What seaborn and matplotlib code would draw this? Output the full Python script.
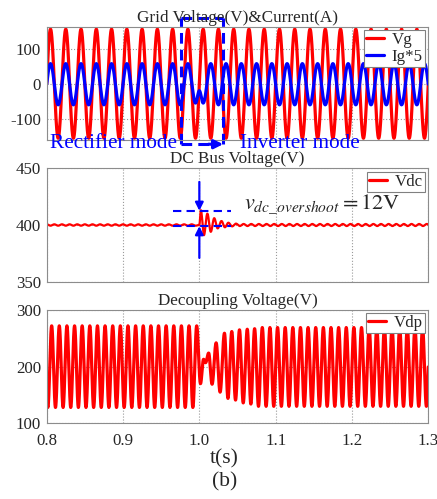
import numpy as np
import pandas as pd
import matplotlib
matplotlib.use("Agg")
import matplotlib.pyplot as plt
import seaborn as sns

# ---------------- data ----------------
t_start, t_end = 0.80, 1.30
x_ticks = [0.8, 0.9, 1.0, 1.1, 1.2, 1.3]
x_tick_labels = ["0.8", "0.9", "1.0", "1.1", "1.2", "1.3"]

# Grid voltage (50 Hz): crest / trough levels and first extremum time
vg_levels = [-155, 155]          # trough, crest
vg_first_ext = 0.795
grid_half_period = 0.010

# Grid current x5: rectifier (in phase) -> inverter (anti-phase)
ig_levels = [-60, 57]            # trough, crest
ig_switch_t = [0.995, 1.000, 1.005]
ig_switch_v = [-55, -20, -55]
ig_inverter_first = 1.015        # first crest in inverter mode

# DC bus voltage: ripple before/after, transient extrema
vdc_pre_levels = [400.6, 399.4]
vdc_trans_t = [1.000, 1.002, 1.006, 1.0105, 1.015, 1.0195, 1.024, 1.029,
               1.0335, 1.038, 1.043, 1.048]
vdc_trans_v = [400.0, 413.0, 391.0, 410.0, 394.0, 406.0, 397.0, 403.5,
               398.0, 402.0, 398.8, 401.2]
vdc_post_levels = [399.1, 400.9]
ripple_half_period = 0.005

# Decoupling voltage (100 Hz)
vdp_pre_levels = [272, 128]      # crest, trough
vdp_pre_first = 0.7965
vdp_trans_t = [1.0015, 1.0055, 1.0082, 1.0122, 1.0167, 1.0220, 1.0272, 1.0329,
               1.0375, 1.0425, 1.0474, 1.0526, 1.0575, 1.0628, 1.0675, 1.0724]
vdp_trans_v = [170, 213, 207, 224, 169, 242, 155, 259,
               144, 262, 141, 265, 136, 266, 134, 267]
vdp_post_levels = [130, 269]     # trough, crest
vdp_post_first = 1.0775

# annotation values
vdc_nominal = 400
vdc_overshoot_peak = 412.5
mode_box_t = [0.9766, 1.0312]


def alternating(first_t, stop_t, step, levels):
    n = int(np.floor((stop_t - first_t) / step + 1e-9)) + 1
    times = first_t + step * np.arange(n)
    vals = np.array([levels[k % 2] for k in range(n)], dtype=float)
    return list(times), list(vals)


def extrema_curve(times, values, t):
    times = np.asarray(times, float)
    values = np.asarray(values, float)
    i = np.clip(np.searchsorted(times, t, side="right") - 1, 0, len(times) - 2)
    s = np.clip((t - times[i]) / (times[i + 1] - times[i]), 0, 1)
    return values[i] + (values[i + 1] - values[i]) * (1 - np.cos(np.pi * s)) / 2


t = np.linspace(t_start, t_end, 10001)

# Vg
vg_t, vg_v = alternating(vg_first_ext, 1.306, grid_half_period, vg_levels)
# Ig*5
a_t, a_v = alternating(vg_first_ext, 0.9851, grid_half_period, ig_levels)
b_t, b_v = alternating(ig_inverter_first, 1.306, grid_half_period, ig_levels[::-1])
ig_t = a_t + ig_switch_t + b_t
ig_v = a_v + ig_switch_v + b_v
# Vdc
a_t, a_v = alternating(0.800, 0.9951, ripple_half_period, vdc_pre_levels)
b_t, b_v = alternating(1.053, 1.306, ripple_half_period, vdc_post_levels)
vdc_t = a_t + vdc_trans_t + b_t
vdc_v = a_v + vdc_trans_v + b_v
# Vdp
a_t, a_v = alternating(vdp_pre_first, 0.9966, ripple_half_period, vdp_pre_levels)
b_t, b_v = alternating(vdp_post_first, 1.306, ripple_half_period, vdp_post_levels)
vdp_t = a_t + vdp_trans_t + b_t
vdp_v = a_v + vdp_trans_v + b_v

df = pd.DataFrame({
    "t": t,
    "Vg": extrema_curve(vg_t, vg_v, t),
    "Ig5": extrema_curve(ig_t, ig_v, t),
    "Vdc": extrema_curve(vdc_t, vdc_v, t),
    "Vdp": extrema_curve(vdp_t, vdp_v, t),
})

# ---------------- drawing ----------------
sns.set_style("white")
plt.rcParams["font.family"] = ["Liberation Serif", "DejaVu Serif"]
plt.rcParams["mathtext.fontset"] = "stix"

W, H = 437, 499
fig = plt.figure(figsize=(W / 100, H / 100), dpi=100)


def px_axes(x0, y0, x1, y1):
    return fig.add_axes([x0 / W, 1 - y1 / H, (x1 - x0) / W, (y1 - y0) / H])


ax1 = px_axes(46.7, 26.7, 428.3, 140.0)
ax2 = px_axes(46.7, 168.3, 428.3, 281.7)
ax3 = px_axes(46.7, 310.0, 428.3, 423.3)

RED = "#ff0000"
BLUE = "#0000ff"

sns.lineplot(data=df, x="t", y="Vg", ax=ax1, color=RED, lw=2.3, label="Vg")
sns.lineplot(data=df, x="t", y="Ig5", ax=ax1, color=BLUE, lw=2.3, label="Ig*5")
sns.lineplot(data=df, x="t", y="Vdc", ax=ax2, color=RED, lw=1.6, label="Vdc")
sns.lineplot(data=df, x="t", y="Vdp", ax=ax3, color=RED, lw=2.3, label="Vdp")

titles = ["Grid Voltage(V)&Current(A)", "DC Bus Voltage(V)", "Decoupling Voltage(V)"]
ylims = [(-160, 162), (350, 450), (100, 300)]
yticks = [[-100, 0, 100], [350, 400, 450], [100, 200, 300]]

for ax, ttl, yl, yt in zip([ax1, ax2, ax3], titles, ylims, yticks):
    ax.set_xlim(t_start, t_end)
    ax.set_ylim(*yl)
    ax.set_yticks(yt)
    ax.set_yticklabels([str(v) for v in yt])
    ax.set_xticks(x_ticks)
    ax.set_title(ttl, fontsize=12.3, pad=3.5)
    ax.set_xlabel("")
    ax.set_ylabel("")
    ax.grid(True, ls=":", color="#9a9a9a", lw=0.8)
    for sp in ax.spines.values():
        sp.set_color("#8c8c8c")
        sp.set_linewidth(0.8)
    ax.tick_params(axis="both", direction="in", length=2.5, labelsize=12.2,
                   color="#8c8c8c", pad=4)
    leg = ax.legend(loc="upper right", fontsize=12.2, frameon=True, fancybox=False,
                    edgecolor="#808080", framealpha=1, handlelength=1.05,
                    borderpad=0.12, labelspacing=0.05, handletextpad=0.45,
                    borderaxespad=0.2)
    leg.get_frame().set_linewidth(0.8)
    for line in leg.get_lines():
        line.set_linewidth(2.3)

ax1.set_xticklabels([])
ax2.set_xticklabels([])
ax3.set_xticklabels(x_tick_labels)
ax3.tick_params(axis="x", pad=7)

# ---- mode box on the grid panel ----
box_kw = dict(color=BLUE, lw=2.2, ls=(0, (3.5, 2)), clip_on=False)
ax1.plot([mode_box_t[0], mode_box_t[0]], [-172, 186], **box_kw)
ax1.plot([mode_box_t[1], mode_box_t[1]], [-172, 186], **box_kw)
ax1.plot(mode_box_t, [186, 186], **box_kw)
ax1.plot([mode_box_t[0], 1.016], [-172, -172], **box_kw)
ax1.annotate("", xy=(mode_box_t[1], -172), xytext=(1.012, -172),
             arrowprops=dict(arrowstyle="-|>", color=BLUE, lw=2.2,
                             mutation_scale=13, shrinkA=0, shrinkB=0),
             annotation_clip=False)
fig.text(50 / W, 1 - 143 / H, "Rectifier mode", color=BLUE, fontsize=15.3,
         ha="left", va="center")
fig.text(240 / W, 1 - 143 / H, "Inverter mode", color=BLUE, fontsize=15.3,
         ha="left", va="center")

# ---- overshoot annotation on the DC bus panel ----
dash_kw = dict(color=BLUE, lw=1.5, ls=(0, (4, 2.5)))
ax2.plot([0.966, 1.041], [vdc_overshoot_peak, vdc_overshoot_peak], **dash_kw)
ax2.plot([0.966, 1.041], [vdc_nominal - 1, vdc_nominal - 1], **dash_kw)
arr = dict(arrowstyle="-|>", color=BLUE, lw=1.6, mutation_scale=12,
           shrinkA=0, shrinkB=0)
ax2.annotate("", xy=(1.0, vdc_overshoot_peak), xytext=(1.0, 438), arrowprops=arr)
ax2.annotate("", xy=(1.0, vdc_nominal - 1), xytext=(1.0, 371), arrowprops=arr)
ax2.text(1.058, 419, r"$v_{dc\_overshoot}=\mathrm{12V}$", fontsize=16,
         ha="left", va="center")

# ---- axis label and caption ----
fig.text(224 / W, 1 - 459 / H, "t(s)", fontsize=15.5, ha="center", va="center")
fig.text(225 / W, 1 - 482 / H, "(b)", fontsize=15.5, ha="center", va="center")

fig.savefig("out.png", dpi=100)
